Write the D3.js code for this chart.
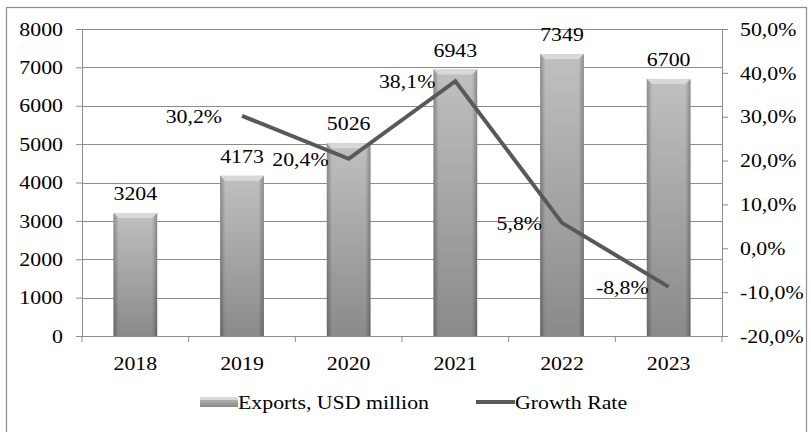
<!DOCTYPE html>
<html>
<head>
<meta charset="utf-8">
<script src="https://cdn.jsdelivr.net/npm/d3@7"></script>
<style>
  body { margin: 0; background: #fff; }
  svg text { font-family: "Liberation Serif", serif !important; fill: #000; }
</style>
</head>
<body>
<svg id="chart" width="811" height="432"></svg>
<script>
// data
const years = ['2018', '2019', '2020', '2021', '2022', '2023'];
const exports = [3204, 4173, 5026, 6943, 7349, 6700];
const growth = [null, 30.2, 20.4, 38.1, 5.8, -8.8];
const leftTicks = [0, 1000, 2000, 3000, 4000, 5000, 6000, 7000, 8000];
const rightTicks = [-20, -10, 0, 10, 20, 30, 40, 50];

const svg = d3.select('#chart');
const fs = 19.5;
const K = 1.12; // the original text is a bit wider than it is tall
const margin = { left: 82, right: 89, top: 29, bottom: 96 };
const W = 811, H = 432;

// comma decimal, plain hyphen
const pct = v => d3.format('.1f')(v).replace('.', ',').replace('\u2212', '-') + '%';

// widen text around its own anchor
function stretch(sel) {
    sel.each(function () {
        const t = d3.select(this);
        const xx = +t.attr('x') || 0, yy = +t.attr('y') || 0;
        t.attr('x', 0).attr('y', 0).attr('transform', `translate(${xx},${yy}) scale(${K},1)`);
    });
}

// outer frame
svg.append('rect')
    .attr('x', 6.5).attr('y', 7.5)
    .attr('width', 800).attr('height', 440)
    .attr('fill', 'none').attr('stroke', '#8c8c8c').attr('stroke-width', 1.2);

const x = d3.scaleBand().domain(years).range([margin.left, W - margin.right]).paddingInner(0.59).paddingOuter(0.295);
const xb = d3.scaleBand().domain(years).range([margin.left, W - margin.right]);
const y = d3.scaleLinear().domain([0, 8000]).range([H - margin.bottom, margin.top]);
const y2 = d3.scaleLinear().domain([-20, 50]).range([H - margin.bottom, margin.top]);

// gradients for the bars
const defs = svg.append('defs');
const gv = defs.append('linearGradient').attr('id', 'barV').attr('x1', 0).attr('y1', 0).attr('x2', 0).attr('y2', 1);
gv.append('stop').attr('offset', '0%').attr('stop-color', '#c0c0c0');
gv.append('stop').attr('offset', '100%').attr('stop-color', '#8a8a8a');
const gh = defs.append('linearGradient').attr('id', 'barH').attr('x1', 0).attr('y1', 0).attr('x2', 1).attr('y2', 0);
gh.append('stop').attr('offset', '0%').attr('stop-color', '#000').attr('stop-opacity', 0.28);
gh.append('stop').attr('offset', '12%').attr('stop-color', '#000').attr('stop-opacity', 0.0);
gh.append('stop').attr('offset', '88%').attr('stop-color', '#000').attr('stop-opacity', 0.0);
gh.append('stop').attr('offset', '100%').attr('stop-color', '#000').attr('stop-opacity', 0.28);

// gridlines
svg.append('g')
    .selectAll('line')
    .data(leftTicks.filter(d => d > 0))
    .join('line')
    .attr('x1', margin.left).attr('x2', W - margin.right)
    .attr('y1', d => Math.round(y(d)) + 0.5).attr('y2', d => Math.round(y(d)) + 0.5)
    .attr('stroke', '#8c8c8c').attr('stroke-width', 1);

// axes
const axL = svg.append('g')
    .attr('transform', `translate(${margin.left},0)`)
    .call(d3.axisLeft(y).tickValues(leftTicks).tickSize(6).tickPadding(13).tickFormat(d => String(d)));
const axR = svg.append('g')
    .attr('transform', `translate(${W - margin.right},0)`)
    .call(d3.axisRight(y2).tickValues(rightTicks).tickSize(6).tickPadding(12).tickFormat(pct));
const axB = svg.append('g')
    .attr('transform', `translate(0,${H - margin.bottom})`)
    .call(d3.axisBottom(xb).tickSize(0).tickPadding(20));
// bottom ticks sit on band edges
svg.append('g')
    .selectAll('line')
    .data(years.concat(['end']))
    .join('line')
    .attr('x1', (d, i) => margin.left + i * xb.step()).attr('x2', (d, i) => margin.left + i * xb.step())
    .attr('y1', H - margin.bottom).attr('y2', H - margin.bottom + 6)
    .attr('stroke', '#8c8c8c');

[axL, axR, axB].forEach(a => {
    a.attr('font-family', null).attr('font-size', null);
    a.selectAll('path, line').attr('stroke', '#8c8c8c');
    a.selectAll('text').attr('font-size', fs).attr('fill', '#000').call(stretch);
});
axB.select('path').attr('d', `M${margin.left},0.5H${W - margin.right}`);

// bars
const bars = svg.append('g');
bars.selectAll('rect.b')
    .data(exports)
    .join('rect')
    .attr('class', 'b')
    .attr('x', (d, i) => x(years[i])).attr('width', x.bandwidth())
    .attr('y', d => y(d)).attr('height', d => y(0) - y(d))
    .attr('fill', 'url(#barV)');
bars.selectAll('rect.s')
    .data(exports)
    .join('rect')
    .attr('class', 's')
    .attr('x', (d, i) => x(years[i])).attr('width', x.bandwidth())
    .attr('y', d => y(d)).attr('height', d => y(0) - y(d))
    .attr('fill', 'url(#barH)');
// bevel on top
bars.selectAll('path.top')
    .data(exports)
    .join('path')
    .attr('class', 'top')
    .attr('d', (d, i) => {
        const x0 = x(years[i]), x1 = x0 + x.bandwidth(), t = y(d);
        return `M${x0},${t}H${x1}L${x1 - 5},${t + 5}H${x0 + 5}Z`;
    })
    .attr('fill', '#d8d8d8');

// value labels
svg.append('g')
    .selectAll('text')
    .data(exports)
    .join('text')
    .attr('x', (d, i) => x(years[i]) + x.bandwidth() / 2)
    .attr('y', d => y(d) - 13)
    .attr('text-anchor', 'middle')
    .attr('font-size', fs)
    .text(d => d)
    .call(stretch);

// growth line
const pts = growth.map((g, i) => ({ year: years[i], g })).filter(d => d.g !== null);
const line = d3.line().x(d => xb(d.year) + xb.bandwidth() / 2).y(d => y2(d.g));
svg.append('path')
    .datum(pts)
    .attr('d', line)
    .attr('fill', 'none')
    .attr('stroke', '#595959')
    .attr('stroke-width', 4);

svg.append('g')
    .selectAll('text')
    .data(pts)
    .join('text')
    .attr('x', d => xb(d.year) + xb.bandwidth() / 2 - 20)
    .attr('y', d => y2(d.g) + 7)
    .attr('text-anchor', 'end')
    .attr('font-size', fs)
    .text(d => pct(d.g))
    .call(stretch);

// legend
const lg = svg.append('g');
lg.append('rect').attr('x', 200).attr('y', 397).attr('width', 38).attr('height', 10).attr('fill', 'url(#barV)');
lg.append('rect').attr('x', 200).attr('y', 397).attr('width', 38).attr('height', 3).attr('fill', '#d8d8d8');
lg.append('text').attr('x', 238).attr('y', 409).attr('font-size', fs).text('Exports, USD million').call(stretch);
lg.append('line').attr('x1', 476).attr('x2', 515).attr('y1', 402).attr('y2', 402).attr('stroke', '#595959').attr('stroke-width', 4);
lg.append('text').attr('x', 515).attr('y', 409).attr('font-size', fs).text('Growth Rate').call(stretch);
</script>
</body>
</html>
